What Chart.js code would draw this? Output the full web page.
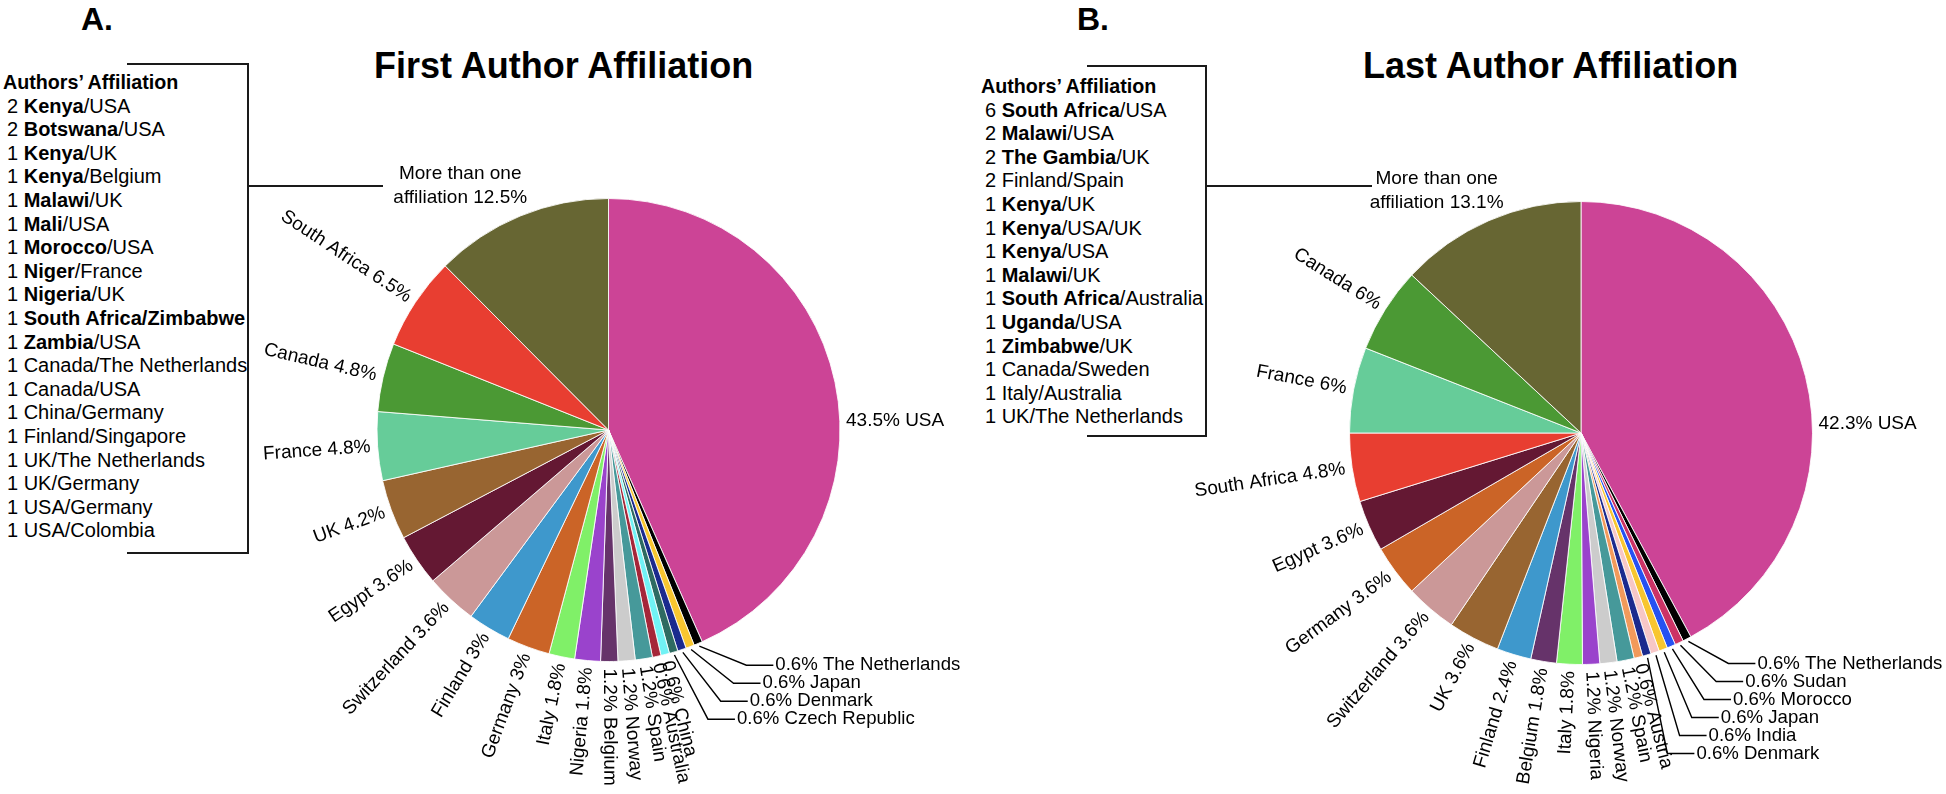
<!DOCTYPE html>
<html>
<head>
<meta charset="utf-8">
<script src="https://cdn.jsdelivr.net/npm/chart.js@4.4.1/dist/chart.umd.min.js"></script>
<style>
  html, body { margin: 0; padding: 0; background: #fff; }
  body { width: 1946px; height: 794px; position: relative; overflow: hidden;
         font-family: 'Liberation Sans', Arial, Helvetica, sans-serif; color: #000; }
  canvas { position: absolute; left: 0; top: 0; }
  .panel { position: absolute; font-weight: bold; font-size: 32px; line-height: 32px; }
  .title { position: absolute; font-weight: bold; font-size: 36px; line-height: 36px; white-space: nowrap; }
  .legend { position: absolute; font-size: 20px; line-height: 23.6px; white-space: pre; }
  .legend .hdr { font-weight: bold; font-size: 19.7px; }
  .legend .item { padding-left: 4px; }
  .ln { position: absolute; background: #1a1a1a; }
</style>
</head>
<body>
<div class="panel" style="left:81px; top:3px;">A.</div>
<div class="panel" style="left:1077px; top:3px;">B.</div>
<div class="title" style="left:374px; top:48px;">First Author Affiliation</div>
<div class="title" style="left:1363px; top:48px;">Last Author Affiliation</div>

<div id="legA" class="legend" style="left:3px; top:71px;"></div>
<div id="legB" class="legend" style="left:981px; top:75px;"></div>

<!-- bracket A -->
<div class="ln" style="left:127px; top:63px; width:122px; height:2px;"></div>
<div class="ln" style="left:247px; top:63px; width:2px; height:491px;"></div>
<div class="ln" style="left:127px; top:552px; width:122px; height:2px;"></div>
<div class="ln" style="left:247px; top:185px; width:136px; height:2px;"></div>
<!-- bracket B -->
<div class="ln" style="left:1087px; top:65px; width:120px; height:2px;"></div>
<div class="ln" style="left:1205px; top:65px; width:2px; height:372px;"></div>
<div class="ln" style="left:1087px; top:435px; width:120px; height:2px;"></div>
<div class="ln" style="left:1205px; top:185px; width:167px; height:2px;"></div>

<canvas id="chartA" width="1946" height="794"></canvas>
<canvas id="chartB" width="1946" height="794"></canvas>

<script>
// ---------- Panel A: First author affiliation ----------
const categoriesA = ['USA', 'The Netherlands', 'Japan', 'Denmark', 'Czech Republic', 'China', 'Australia',
  'Spain', 'Norway', 'Belgium', 'Nigeria', 'Italy', 'Germany', 'Finland', 'Switzerland', 'Egypt', 'UK',
  'France', 'Canada', 'South Africa', 'More than one affiliation'];
const valuesA = [43.5, 0.6, 0.6, 0.6, 0.6, 0.6, 0.6, 1.2, 1.2, 1.2, 1.8, 1.8, 3, 3, 3.6, 3.6, 4.2, 4.8, 4.8, 6.5, 12.5];
const colorsA = ['#CC4496', '#000000', '#F8C630', '#1B2A8E', '#2E6B62', '#71F2F5', '#A52639',
  '#46999A', '#CCCCCC', '#66336A', '#9A43CC', '#80F068', '#CB6427', '#3E98CC', '#CB9898', '#641833', '#986531',
  '#66CC99', '#4B9934', '#E83E31', '#676633'];
const leaderA = ['The Netherlands', 'Japan', 'Denmark', 'Czech Republic'];
const legendA = ['2 <b>Kenya</b>/USA', '2 <b>Botswana</b>/USA', '1 <b>Kenya</b>/UK', '1 <b>Kenya</b>/Belgium',
  '1 <b>Malawi</b>/UK', '1 <b>Mali</b>/USA', '1 <b>Morocco</b>/USA', '1 <b>Niger</b>/France', '1 <b>Nigeria</b>/UK',
  '1 <b>South Africa/Zimbabwe</b>', '1 <b>Zambia</b>/USA', '1 Canada/The Netherlands', '1 Canada/USA',
  '1 China/Germany', '1 Finland/Singapore', '1 UK/The Netherlands', '1 UK/Germany', '1 USA/Germany', '1 USA/Colombia'];

// ---------- Panel B: Last author affiliation ----------
const categoriesB = ['USA', 'The Netherlands', 'Sudan', 'Morocco', 'Japan', 'India', 'Denmark', 'Austria',
  'Spain', 'Norway', 'Nigeria', 'Italy', 'Belgium', 'Finland', 'UK', 'Switzerland', 'Germany', 'Egypt',
  'South Africa', 'France', 'Canada', 'More than one affiliation'];
const valuesB = [42.3, 0.6, 0.6, 0.6, 0.6, 0.6, 0.6, 0.6, 1.2, 1.2, 1.2, 1.8, 1.8, 2.4, 3.6, 3.6, 3.6, 3.6, 4.8, 6, 6, 13.1];
const colorsB = ['#CC4496', '#000000', '#CC3366', '#2652F2', '#F8C630', '#F7C7C7', '#1B2A8E', '#F29A5B',
  '#46999A', '#CCCCCC', '#9A43CC', '#80F068', '#66336A', '#3E98CC', '#986531', '#CB9898', '#CB6427', '#641833',
  '#E83E31', '#66CC99', '#4B9934', '#676633'];
const leaderB = ['The Netherlands', 'Sudan', 'Morocco', 'Japan', 'India', 'Denmark'];
const legendB = ['6 <b>South Africa</b>/USA', '2 <b>Malawi</b>/USA', '2 <b>The Gambia</b>/UK', '2 Finland/Spain',
  '1 <b>Kenya</b>/UK', '1 <b>Kenya</b>/USA/UK', '1 <b>Kenya</b>/USA', '1 <b>Malawi</b>/UK',
  '1 <b>South Africa</b>/Australia', '1 <b>Uganda</b>/USA', '1 <b>Zimbabwe</b>/UK', '1 Canada/Sweden',
  '1 Italy/Australia', '1 UK/The Netherlands'];

function fillLegend(id, items) {
  const el = document.getElementById(id);
  let html = '<div class="hdr">Authors\u2019 Affiliation</div>';
  items.forEach(t => { html += '<div class="item">' + t + '</div>'; });
  el.innerHTML = html;
}
fillLegend('legA', legendA);
fillLegend('legB', legendB);

const FAMILY = "'Liberation Sans', Arial, Helvetica, sans-serif";
const FONT = "19px " + FAMILY;
const FONT_LEADER = "18.6px " + FAMILY;

const sliceLabels = {
  id: 'sliceLabels',
  afterDraw(chart, args, opts) {
    const ctx = chart.ctx;
    const meta = chart.getDatasetMeta(0);
    const labels = chart.data.labels;
    const values = chart.data.datasets[0].data;
    ctx.save();
    ctx.fillStyle = '#000';
    ctx.strokeStyle = '#000';
    ctx.lineWidth = 1.4;
    let k = 0, base = null;
    meta.data.forEach((arc, i) => {
      const p = arc.getProps(['x', 'y', 'startAngle', 'endAngle', 'outerRadius'], true);
      const mid = (p.startAngle + p.endAngle) / 2;
      const c = Math.cos(mid), s = Math.sin(mid), r = p.outerRadius;
      const name = labels[i], pct = values[i] + '%';
      ctx.font = FONT;
      if (i === 0) {
        ctx.textAlign = 'left'; ctx.textBaseline = 'middle';
        ctx.fillText(pct + ' ' + name, p.x + r + 6, p.y - 9);
      } else if (i === labels.length - 1) {
        const ax = p.x + (r + 8) * c, ay = p.y + (r + 8) * s;
        const cut = name.lastIndexOf(' ');
        const l1 = name.slice(0, cut), l2 = name.slice(cut + 1) + ' ' + pct;
        const w = Math.max(ctx.measureText(l1).width, ctx.measureText(l2).width);
        const cx = ax + opts.groupShift - w / 2;
        ctx.textAlign = 'center'; ctx.textBaseline = 'middle';
        ctx.fillText(l1, cx, ay - 35);
        ctx.fillText(l2, cx, ay - 11);
      } else if (opts.leaders.includes(name)) {
        ctx.font = FONT_LEADER;
        const sx = p.x + (r + 3) * c, sy = p.y + (r + 3) * s;
        if (!base) base = { x: sx + opts.knee[0], y: sy + opts.knee[1] };
        const kx = base.x - k * opts.step[0], ky = base.y + k * opts.step[1];
        ctx.beginPath();
        ctx.moveTo(sx, sy); ctx.lineTo(kx, ky); ctx.lineTo(kx + 27, ky);
        ctx.stroke();
        ctx.textAlign = 'left'; ctx.textBaseline = 'middle';
        ctx.fillText(pct + ' ' + name, kx + 29, ky);
        k++;
      } else {
        const gap = 7;
        ctx.save();
        ctx.translate(p.x + (r + gap) * c, p.y + (r + gap) * s);
        ctx.textBaseline = 'middle';
        if (c >= 0) { ctx.rotate(mid); ctx.textAlign = 'left'; ctx.fillText(pct + ' ' + name, 0, 0); }
        else { ctx.rotate(mid + Math.PI); ctx.textAlign = 'right'; ctx.fillText(name + ' ' + pct, 0, 0); }
        ctx.restore();
      }
    });
    ctx.restore();
  }
};

function makePie(id, cats, vals, cols, leaders, pad, groupShift, knee, step) {
  return new Chart(document.getElementById(id), {
    type: 'pie',
    data: { labels: cats, datasets: [{ data: vals, backgroundColor: cols, borderColor: 'rgba(255,255,255,0.85)',
      borderWidth: 1, hoverOffset: 0, offset: 0 }] },
    options: {
      responsive: false, animation: false, devicePixelRatio: 1,
      layout: { padding: pad },
      plugins: { legend: { display: false }, tooltip: { enabled: false }, title: { display: false },
        sliceLabels: { leaders: leaders, groupShift: groupShift, knee: knee, step: step } },
      events: []
    },
    plugins: [sliceLabels]
  });
}

makePie('chartA', categoriesA, valuesA, colorsA, leaderA, { left: 376, right: 1105, top: 198, bottom: 132 }, 10, [47, 19], [12.8, 18]);
makePie('chartB', categoriesB, valuesB, colorsB, leaderB, { left: 1349, right: 133, top: 201, bottom: 129 }, 18, [40, 22], [12.2, 18]);
</script>
</body>
</html>
